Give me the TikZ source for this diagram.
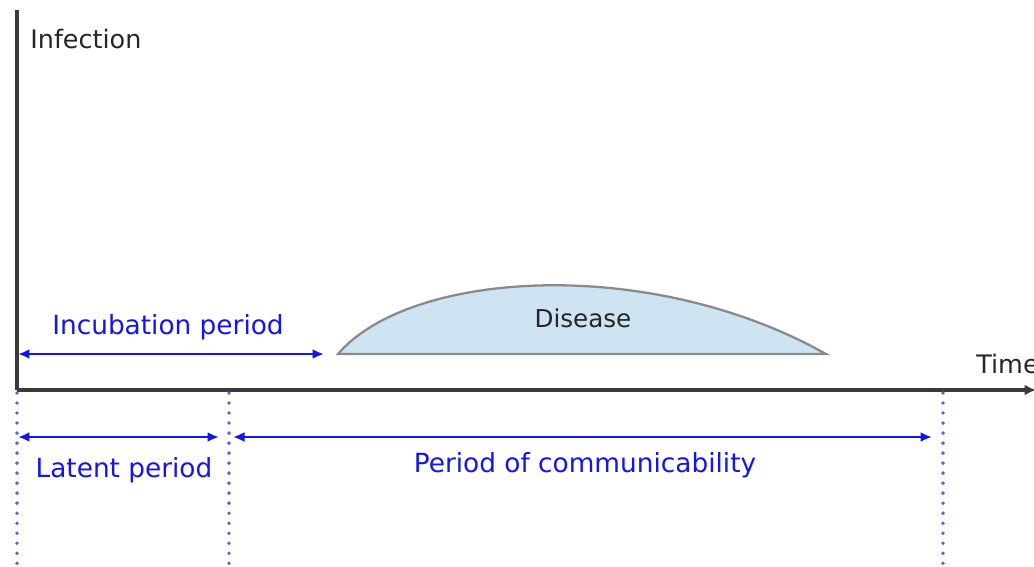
\documentclass[tikz,border=0pt]{standalone}
\usepackage{fontspec}
\setmainfont{DejaVu Sans}
\usetikzlibrary{arrows.meta,positioning}
\usepackage{xcolor}
\definecolor{axisgray}{HTML}{3A3A3A}
\definecolor{perblue}{HTML}{1414F0}
\definecolor{dotblue}{HTML}{5C5CEE}
\definecolor{disfill}{HTML}{CFE4F3}
\definecolor{disline}{HTML}{8A8A8A}

\begin{document}
\begin{tikzpicture}[x=0.02cm, y=-0.02cm,
  axis/.style={line width=2pt, draw=axisgray},
  axlabel/.style={font=\fontsize{14.5}{17}\selectfont, text=black!85, inner sep=0pt},
  span/.style={{Latex[length=2.3mm,width=2mm]}-{Latex[length=2.3mm,width=2mm]}, line width=1.4pt, draw=perblue},
  spanlabel/.style={font=\fontsize{15}{18}\selectfont, text=perblue, inner sep=0pt},
  marker/.style={line width=2.2pt, draw=dotblue, line cap=round, dash pattern=on 0pt off 5.7pt}
]
\useasboundingbox (0,0) rectangle (1034,566);

% axes
\coordinate (O) at (17,390);
\coordinate (Ytop) at (17,10);
\coordinate (Xend) at (1036,390);
\draw[axis] (Ytop) -- (O);
\draw[axis, -{Latex[length=2.3mm,width=2.2mm]}] (O) -- (Xend);
\node[axlabel, anchor=west] (infection) at (30,39) {Infection};
\node[axlabel, anchor=west] (time) at (976,364) {Time};

% disease curve
\coordinate (disL) at (338,354);
\coordinate (disR) at (826,354);
\draw[fill=disfill, draw=disline, line width=1.3pt] (disL) .. controls (410,270) and (650,255) .. (disR) -- cycle;
\node[font=\fontsize{14}{17}\selectfont, text=black!85] (disease) at (583,318) {Disease};

% period markers
\coordinate (m0) at (17,393);
\coordinate (m1) at (229,393);
\coordinate (m2) at (943,393);
\foreach \m in {m0,m1,m2}
  \draw[marker] (\m) -- ++(0,180);

% periods
\coordinate (incA) at (18,354);
\coordinate (incB) at (324,354);
\draw[span] (incA) -- (incB);
\node[spanlabel] (incubation) at (168,327) {Incubation period};

\coordinate (latA) at (18,437);
\coordinate (latB) at (219,437);
\draw[span] (latA) -- (latB);
\node[spanlabel] (latent) at (124,470) {Latent period};

\coordinate (comA) at (233,437);
\coordinate (comB) at (932,437);
\draw[span] (comA) -- (comB);
\node[spanlabel] (communic) at (585,465) {Period of communicability};

\end{tikzpicture}
\end{document}
